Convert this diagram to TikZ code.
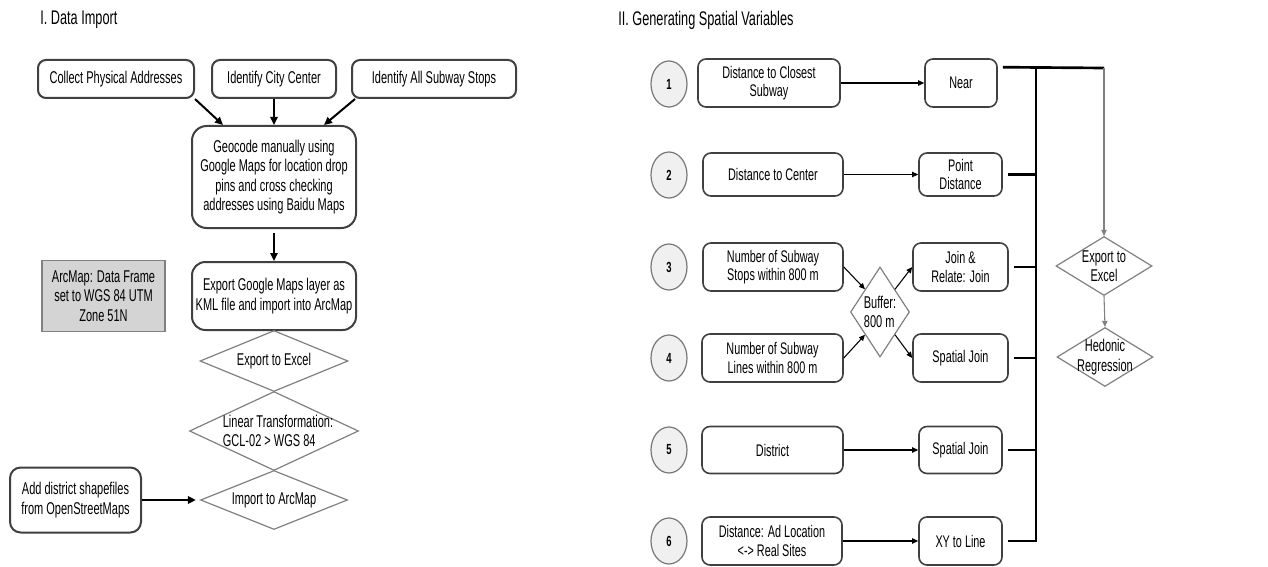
\documentclass[tikz,border=0pt]{standalone}
\usepackage{fontspec}
\setmainfont{Liberation Sans}[FakeStretch=0.645]
\usetikzlibrary{shapes.geometric,arrows.meta,calc}
\newcommand\pxu{0.75pt}
\definecolor{boxc}{HTML}{404040}
\definecolor{diac}{HTML}{808080}
\definecolor{circc}{HTML}{777777}
\definecolor{circf}{HTML}{F0F0F0}
\definecolor{grayb}{HTML}{808080}
\definecolor{grayf}{HTML}{D4D4D4}
\begin{document}
\begin{tikzpicture}[x=0.75pt,y=-0.75pt,
  every node/.style={font=\fontsize{12.8}{14.6}\selectfont, inner sep=0pt},
  lbox/.style={draw=boxc, line width=1.5pt, rounded corners=6pt, align=center},
  rbox/.style={draw=boxc, line width=1.2pt, rounded corners=6pt, align=center, font=\fontsize{12.6}{14}\selectfont},
  dia/.style={diamond, draw=diac, line width=0.9pt},
  num/.style={ellipse, draw=circc, fill=circf, line width=0.9pt, minimum width=36*\pxu, minimum height=46*\pxu, font=\fontsize{11}{12}\selectfont\bfseries},
  arr/.style={line width=1.5pt, -{Triangle[length=6pt,width=5.5pt]}},
  tarr/.style={line width=0.8pt, -{Triangle[length=4.5pt,width=4pt]}},
  garr/.style={line width=0.8pt, draw=diac, -{Triangle[length=4.5pt,width=4pt]}},
  bus/.style={line width=2pt},
  ttl/.style={font=\fontsize{14.8}{16}\selectfont, anchor=west},
]
\fill[white] (0,0) rectangle (1268,567);
\useasboundingbox (0,0) rectangle (1268,567);

% titles
\node[ttl] (t1) at (40,20) {I. Data Import};
\node[ttl] (t2) at (618,20) {II. Generating Spatial Variables};

% ---------- Part I ----------
\node[lbox, minimum width=156*\pxu, minimum height=38*\pxu] (col) at (116,79) {Collect Physical Addresses};
\node[lbox, minimum width=124*\pxu, minimum height=38*\pxu] (city) at (274,79) {Identify City Center};
\node[lbox, minimum width=164*\pxu, minimum height=38*\pxu] (subw) at (434,79) {Identify All Subway Stops};
\node[lbox, rounded corners=11pt, minimum width=164*\pxu, minimum height=102*\pxu] (geo) at (274,177)
  {Geocode manually using\\Google Maps for location drop\\pins and cross checking\\addresses using Baidu Maps};
\node[lbox, rounded corners=10pt, minimum width=164*\pxu, minimum height=68*\pxu] (kml) at (274,296)
  {Export Google Maps layer as\\KML file and import into ArcMap};
\node[draw=grayb, fill=grayf, line width=0.9pt, align=center, minimum width=123*\pxu, minimum height=71*\pxu] (arc) at (103.5,296)
  {ArcMap: Data Frame\\set to WGS 84 UTM\\Zone 51N};
\node[dia, minimum width=148*\pxu, minimum height=61*\pxu, label=center:Export to Excel] (exl) at (274,361) {};
\node[dia, minimum width=169*\pxu, minimum height=79*\pxu,
  label={[align=left,xshift=3pt]center:Linear Transformation:\\GCL-02 > WGS 84}] (lin) at (274,431) {};
\node[dia, minimum width=147*\pxu, minimum height=59*\pxu, label=center:Import to ArcMap] (imp) at (274,500) {};
\node[lbox, rounded corners=8pt, minimum width=131*\pxu, minimum height=65*\pxu] (dist) at (75.5,500)
  {Add district shapefiles\\from OpenStreetMaps};

\draw[arr] (col.south east) -- ([xshift=24pt]geo.north west);
\draw[arr] (city.south) -- (geo.north);
\draw[arr] ([xshift=3pt]subw.south west) -- ([xshift=-24.75pt]geo.north east);
\draw[arr, shorten <=3pt] (geo.south) -- (kml.north);
\draw[arr, shorten >=3pt] (dist.east) -- (imp.west);

% ---------- Part II ----------
\node[num] (n1) at (669,84) {1};
\node[num] (n2) at (669,175) {2};
\node[num] (n3) at (669,267) {3};
\node[num] (n4) at (669,358) {4};
\node[num] (n5) at (669,450) {5};
\node[num] (n6) at (669,541) {6};

\node[rbox, minimum width=142*\pxu, minimum height=48*\pxu] (a1) at (769,83) {Distance to Closest\\Subway};
\node[rbox, minimum width=140*\pxu, minimum height=43*\pxu] (a2) at (773,174.5) {Distance to Center};
\node[rbox, minimum width=140*\pxu, minimum height=48*\pxu] (a3) at (773,267) {Number of Subway\\Stops within 800 m};
\node[rbox, minimum width=141*\pxu, minimum height=48*\pxu] (a4) at (772.5,358) {Number of Subway\\Lines within 800 m};
\node[rbox, minimum width=141*\pxu, minimum height=47*\pxu] (a5) at (772.5,450) {District};
\node[rbox, minimum width=140*\pxu, minimum height=48*\pxu] (a6) at (772,541) {Distance: Ad Location\\<-> Real Sites};

\node[rbox, minimum width=72*\pxu, minimum height=48*\pxu] (b1) at (961,83) {Near};
\node[rbox, minimum width=83*\pxu, minimum height=43*\pxu] (b2) at (960.5,174.5) {Point\\Distance};
\node[rbox, minimum width=95*\pxu, minimum height=48*\pxu] (b3) at (960.5,267) {Join \&\\Relate: Join};
\node[rbox, minimum width=95*\pxu, minimum height=48*\pxu] (b4) at (960.5,358) {Spatial Join};
\node[rbox, minimum width=83*\pxu, minimum height=47*\pxu] (b5) at (960.5,450) {Spatial Join};
\node[rbox, minimum width=83*\pxu, minimum height=48*\pxu] (b6) at (960.5,541) {XY to Line};

\node[dia, minimum width=59*\pxu, minimum height=90*\pxu, label={[align=left]center:Buffer:\\800 m}] (buf) at (880,312) {};

\node[dia, minimum width=96*\pxu, minimum height=59*\pxu, label={[align=center]center:Export to\\Excel}] (ex2) at (1104,266) {};
\node[dia, minimum width=96*\pxu, minimum height=59*\pxu, label={[align=center]center:Hedonic\\Regression}] (hed) at (1105,357) {};

\draw[tarr] (a1.east) -- (b1.west);
\draw[tarr] (a2.east) -- (b2.west);
\draw[tarr] (a5.east) -- (b5.west);
\draw[tarr] (a6.east) -- (b6.west);
\draw[tarr] (a3.east) -- (buf.north west);
\draw[tarr] (a4.east) -- (buf.south west);
\draw[tarr] (buf.north east) -- (b3.west);
\draw[tarr] (buf.south east) -- (b4.west);

\coordinate (bt) at (1036,68);
\coordinate (bb) at (1036,542);
\coordinate (tr) at (1104,68);
\draw[bus] ([xshift=3.75pt,yshift=-6.75pt]b1.north east) -- (tr);
\draw[bus] (bt) -- (bb);
\draw[bus] ([xshift=3.75pt]b2.east) -- (b2.east -| bt);
\draw[bus] ([xshift=3.75pt]b3.east) -- (b3.east -| bt);
\draw[bus] ([xshift=3.75pt]b4.east) -- (b4.east -| bt);
\draw[bus] ([xshift=3.75pt]b5.east) -- (b5.east -| bt);
\draw[bus] ([xshift=3.75pt]b6.east) -- (b6.east -| bt);
\draw[garr] (tr) -- (ex2.north);
\draw[garr] (ex2.south) -- (hed.north);
\end{tikzpicture}
\end{document}
